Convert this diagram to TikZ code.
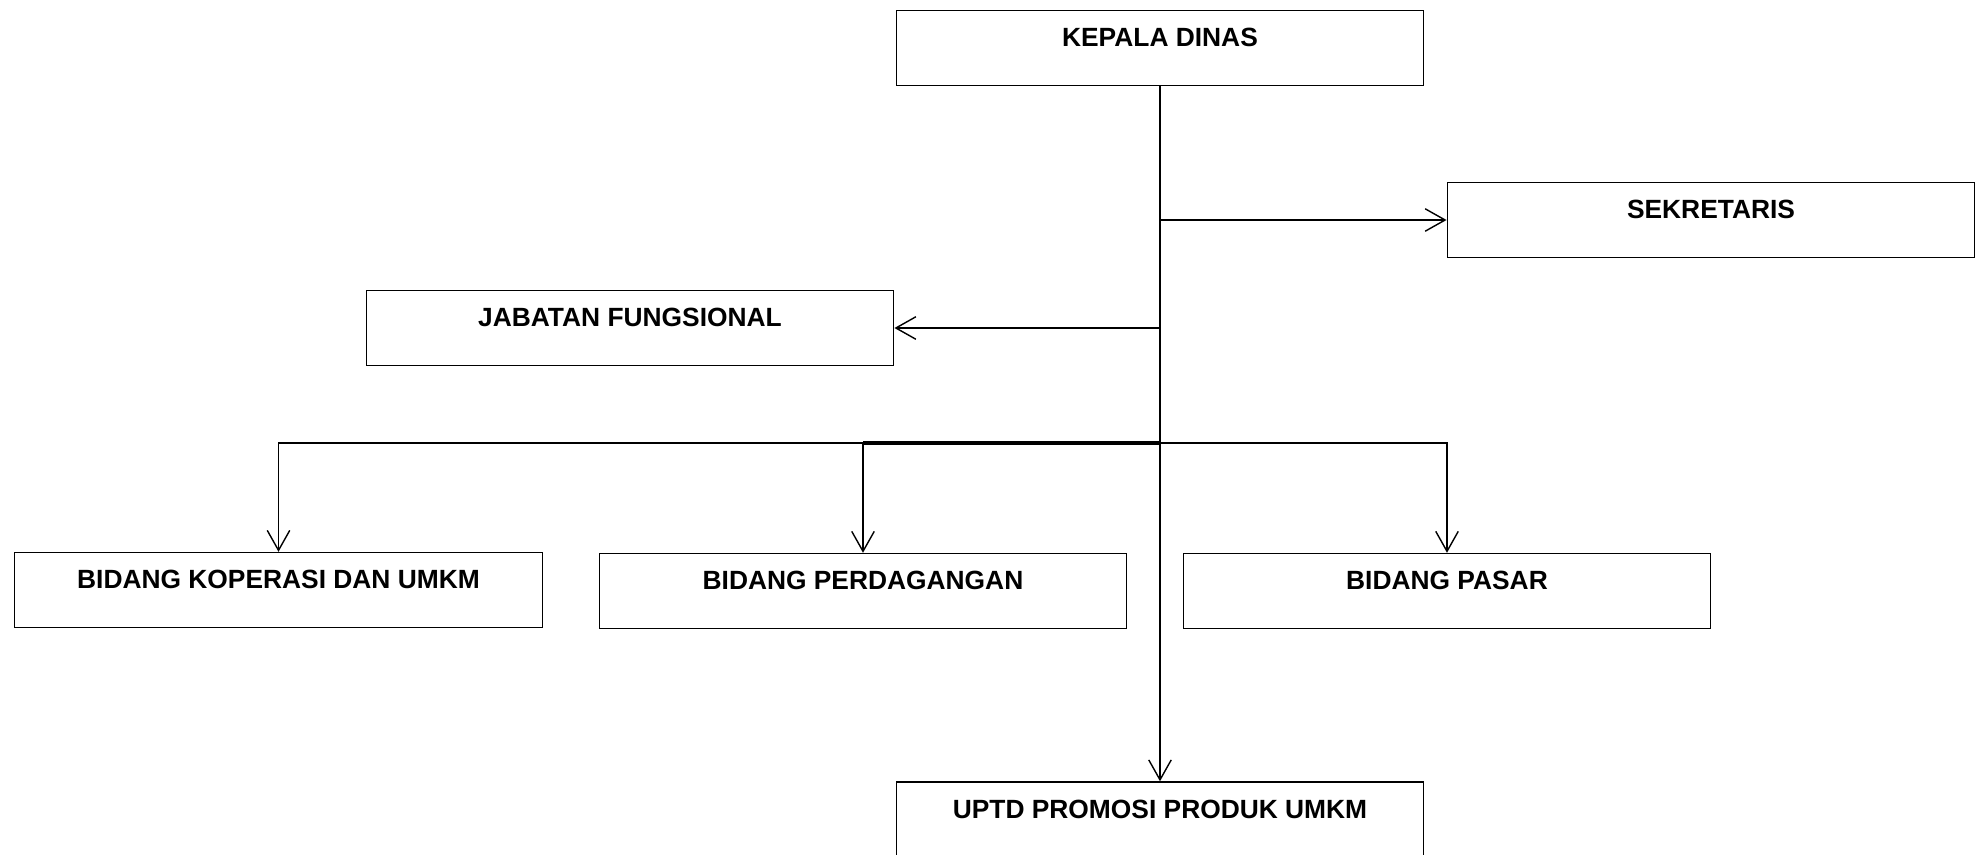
\documentclass[tikz,border=0pt]{standalone}
\usepackage{fontspec}
\setmainfont{Liberation Sans}
\usepackage{tikz}
\usetikzlibrary{arrows.meta}

\begin{document}
\begin{tikzpicture}[line width=0.8pt,
        unit/.style={draw, inner sep=0pt, minimum width=10.55cm, minimum height=1.5cm,
            text height=0.38cm, text depth=0.44cm, font=\bfseries\fontsize{15}{18}\selectfont},
        link/.style={-{Straight Barb[length=0.4cm, width=0.45cm]}},
        trunk/.style={line width=1.4pt}]
    \useasboundingbox (0,0) rectangle (39.62,-17.08);
    \node[unit] (kadis) at (23.2,-0.96) {KEPALA DINAS};
    \node[unit] (sekre) at (34.22,-4.4) {SEKRETARIS};
    \node[unit] (jabfung) at (12.6,-6.56) {JABATAN FUNGSIONAL};
    \node[unit] (koperasi) at (5.57,-11.8) {BIDANG KOPERASI DAN UMKM};
    \node[unit] (dagang) at (17.26,-11.82) {BIDANG PERDAGANGAN};
    \node[unit] (pasar) at (28.94,-11.82) {BIDANG PASAR};
    \node[unit] (uptd) at (23.2,-16.39) {UPTD PROMOSI PRODUK UMKM};
    \coordinate (bar) at (23.2,-8.86);
    \draw[trunk] (kadis.south) -- (bar);
    \draw[link] (kadis.south |- sekre.west) -- (sekre.west);
    \draw[link] (kadis.south |- jabfung.east) -- (jabfung.east);
    \draw[link] (bar) -| (koperasi.north);
    \draw[line width=1.8pt] (bar) -- (bar -| dagang.north);
    \draw[link] (bar -| dagang.north) -- (dagang.north);
    \draw[link] (bar) -| (pasar.north);
    \draw[link] (bar) -- (uptd.north);
\end{tikzpicture}
\end{document}
